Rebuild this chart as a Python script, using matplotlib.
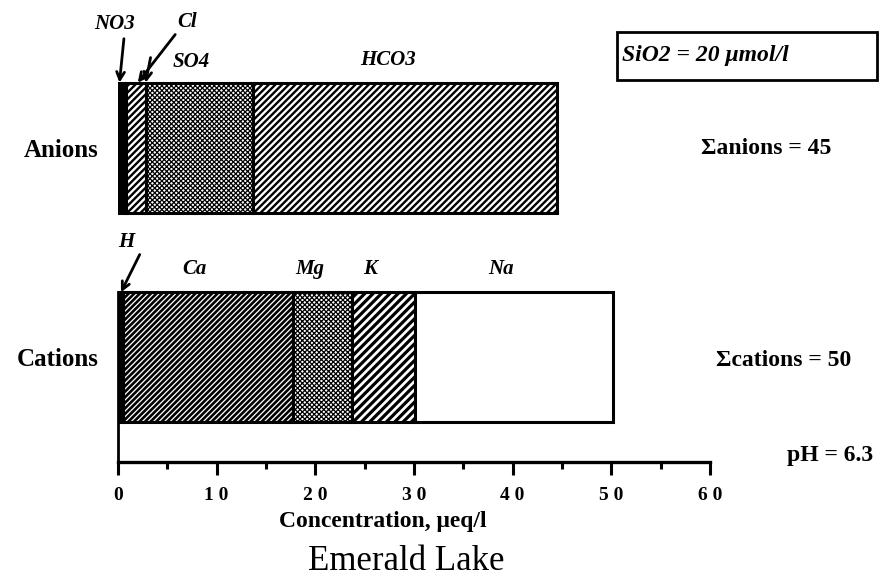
import matplotlib
matplotlib.use('Agg')
from matplotlib import pyplot as plt
import matplotlib.patches

# chart values (µeq/l)
anion_names = ['NO3', 'Cl', 'SO4', 'HCO3']
anion_values = [0.8, 2.0, 10.9, 30.8]
cation_names = ['H', 'Ca', 'Mg', 'K', 'Na']
cation_values = [0.5, 17.2, 6.0, 6.4, 20.1]
categories = ['Cations', 'Anions']
x_ticks = [0, 10, 20, 30, 40, 50, 60]
x_tick_labels = ['0', '1 0', '2 0', '3 0', '4 0', '5 0', '6 0']
sum_anions = 45
sum_cations = 50
ph_value = 6.3
sio2_value = 20

SERIF = 'Liberation Serif'
BAR_H = 0.62
W, H = 882, 588

# fill style per ion: (facecolor, hatch, hatch linewidth)
STYLES = {
    'NO3': ('black', None, 1.0),
    'Cl': ('white', '/////', 1.7),
    'SO4': ('white', 'xxxxxxx', 0.9),
    'HCO3': ('white', '/////', 1.7),
    'H': ('black', None, 1.0),
    'Ca': ('white', '//////', 1.9),
    'Mg': ('white', 'xxxxxxx', 0.9),
    'K': ('white', '////', 2.3),
    'Na': ('white', None, 1.0),
}


def stacked(ax, y, names, values):
    left = 0.0
    centres = []
    for name, value in zip(names, values):
        fc, hatch, hlw = STYLES[name]
        with plt.rc_context({'hatch.linewidth': hlw}):
            bars = ax.barh(y, value, left=left, height=BAR_H, color=fc,
                           edgecolor='black', linewidth=2.2, hatch=hatch)
        for bar in bars:
            if hasattr(bar, 'set_hatch_linewidth'):
                bar.set_hatch_linewidth(hlw)
        centres.append(left + value / 2)
        left += value
    return centres


fig = plt.figure(figsize=(W / 100, H / 100), dpi=100)
ax = fig.add_axes([118 / W, 126 / H, 592 / W, 461 / H])
ax.set_xlim(0, 60)
ax.set_ylim(-0.5, 1.7)

c_centres = stacked(ax, 0, cation_names, cation_values)
a_centres = stacked(ax, 1, anion_names, anion_values)

# spines and ticks
for side in ['top', 'right']:
    ax.spines[side].set_visible(False)
ax.spines['bottom'].set_linewidth(2.4)
ax.spines['left'].set_linewidth(2.0)
ax.spines['left'].set_bounds(-0.5, BAR_H / 2)
ax.set_xticks(x_ticks)
ax.set_xticklabels(x_tick_labels, fontfamily=SERIF, fontweight='bold', fontsize=14)
ax.set_xticks([5, 15, 25, 35, 45, 55], minor=True)
ax.tick_params(axis='x', which='major', direction='out', length=9, width=2.2, pad=9)
ax.tick_params(axis='x', which='minor', direction='out', length=5, width=2.2)
ax.set_yticks([0, 1])
ax.set_yticklabels(categories, fontfamily=SERIF, fontweight='bold', fontsize=18)
ax.tick_params(axis='y', length=0, pad=14)
ax.set_xlabel('Concentration, μeq/l', fontfamily=SERIF, fontweight='bold', fontsize=17)
ax.xaxis.set_label_coords((383 - 118) / 592, -(521 - 462) / 461)
ax.xaxis.label.set_va('center')

ion_font = dict(fontfamily=SERIF, fontweight='bold', fontstyle='italic', fontsize=15,
                ha='center', va='center')
arrow = dict(arrowstyle='->', lw=2.0, color='black', shrinkA=0, shrinkB=0,
             mutation_scale=14)

# anion labels
ax.text(-0.3, 1.59, 'NO3', **ion_font)
ax.text(7.0, 1.60, 'Cl', **ion_font)
ax.text(7.4, 1.41, 'SO4', **ion_font)
ax.text(a_centres[3] - 1.7, 1.42, 'HCO3', **ion_font)
ax.annotate('', xy=(0.15, 1 + BAR_H / 2), xytext=(0.6, 1.52), arrowprops=arrow)
ax.annotate('', xy=(2.0, 1 + BAR_H / 2), xytext=(5.8, 1.54), arrowprops=arrow)
ax.annotate('', xy=(2.8, 1 + BAR_H / 2), xytext=(3.3, 1.43), arrowprops=arrow)

# cation labels
ax.text(0.8, 0.55, 'H', **ion_font)
for name, cx in zip(cation_names[1:], c_centres[1:]):
    ax.text(cx - 1.3, 0.42, name, **ion_font)
ax.annotate('', xy=(0.3, BAR_H / 2), xytext=(2.2, 0.49), arrowprops=arrow)

# right-hand notes
note = dict(fontfamily=SERIF, fontweight='bold', fontsize=17, ha='center', va='center')
fig.text(766 / W, 1 - 148 / H, 'Σanions = %d' % sum_anions, **note)
fig.text(784 / W, 1 - 360 / H, 'Σcations = %d' % sum_cations, **note)
fig.text(830 / W, 1 - 456 / H, 'pH = %.1f' % ph_value, **note)
fig.text(622 / W, 1 - 55 / H, 'SiO2 = %d μmol/l' % sio2_value, fontfamily=SERIF,
         fontweight='bold', fontstyle='italic', fontsize=17, ha='left', va='center')
fig.patches.append(matplotlib.patches.Rectangle(
    (617 / W, 1 - 80 / H), 260 / W, 48 / H, transform=fig.transFigure,
    fill=False, edgecolor='black', linewidth=2.0))

fig.text(406 / W, 1 - 561 / H, 'Emerald Lake', fontfamily=SERIF, fontsize=25,
         ha='center', va='center')

fig.savefig('out.png', dpi=100)
